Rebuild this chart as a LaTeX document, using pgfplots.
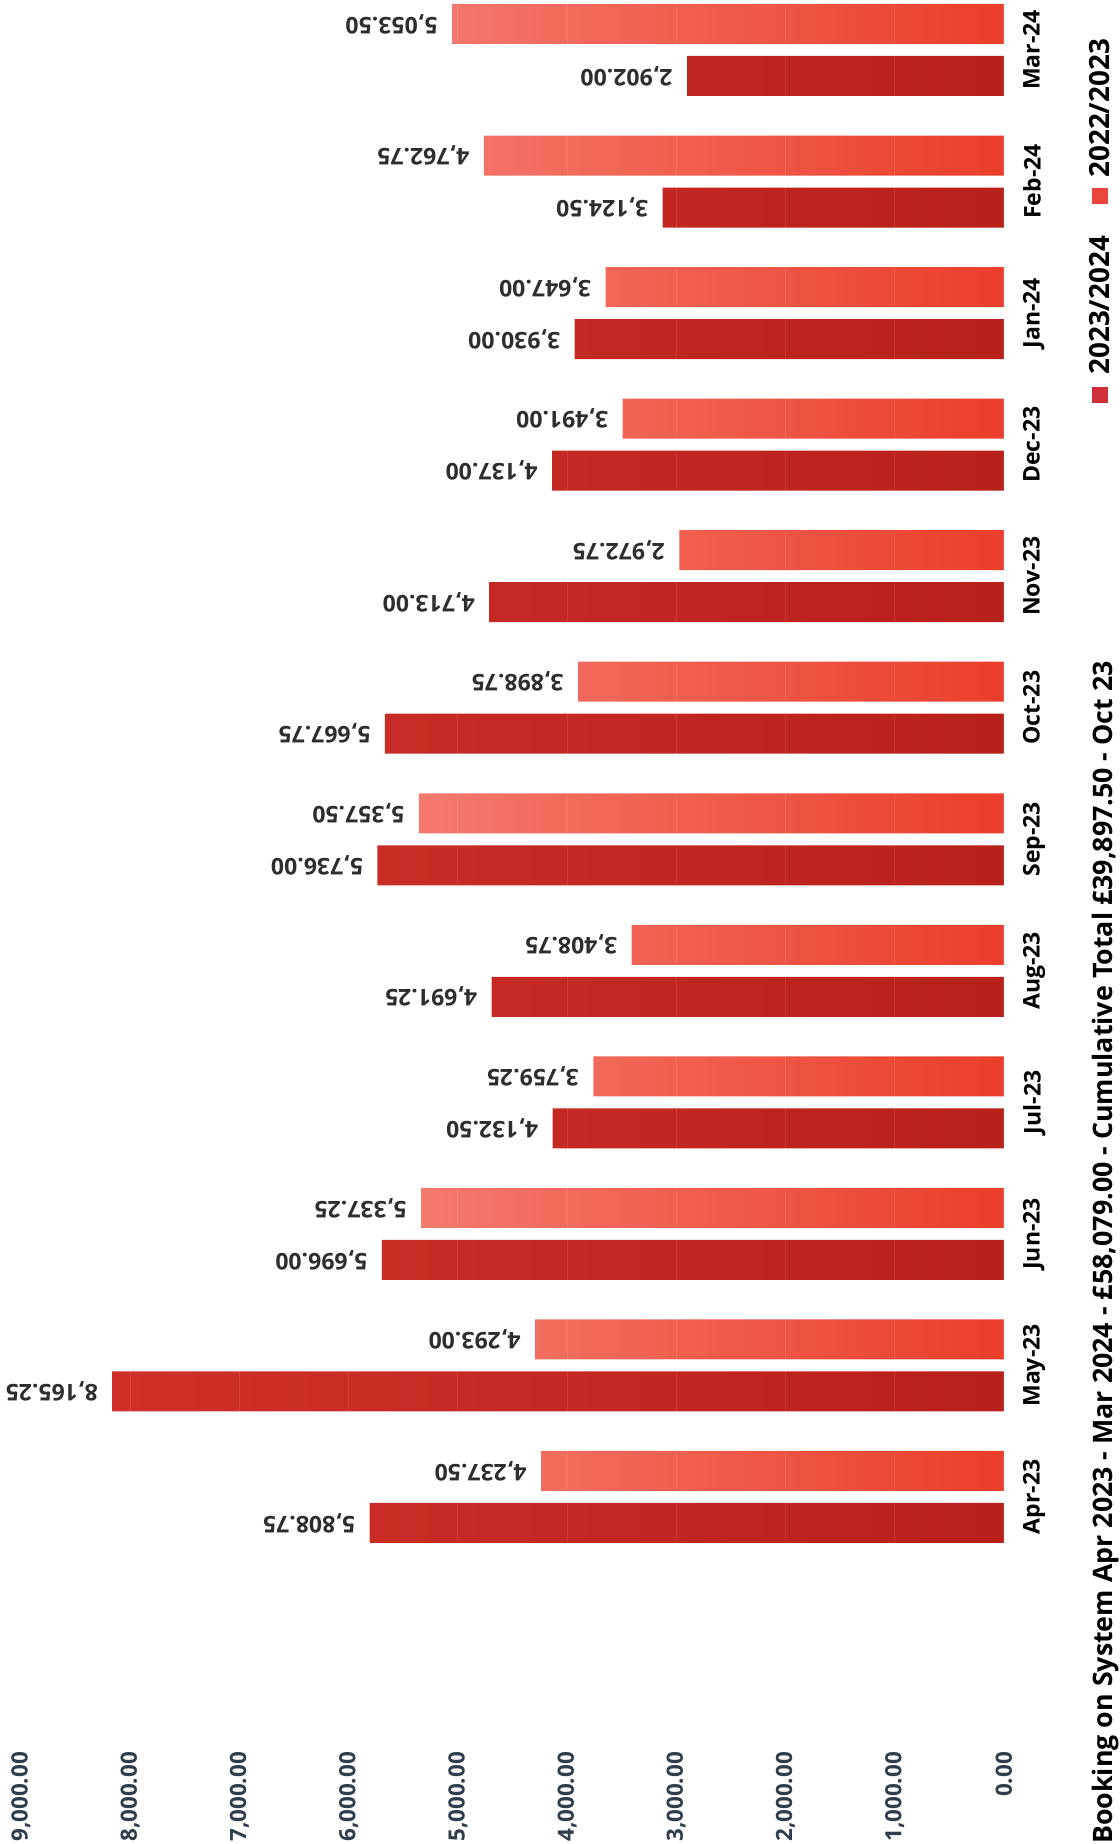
\documentclass[border=0pt]{standalone}
\usepackage{fontspec}
\setmainfont{Open Sans}
\usepackage{pgfplots}
\usepackage{pgfplotstable}
\pgfplotsset{compat=1.18}
\definecolor{dtip}{HTML}{D0302A}
\definecolor{dbase}{HTML}{B8201A}
\definecolor{ltip}{HTML}{F47A6E}
\definecolor{lbase}{HTML}{EB3E2A}
\definecolor{dleg}{HTML}{D0303A}
\definecolor{lleg}{HTML}{E8473A}
\definecolor{tickc}{HTML}{2F3E4E}
\definecolor{labc}{HTML}{2E2E2E}

\pgfplotstableread{
idx cur prev
0 5808.75 4237.50
1 8165.25 4293.00
2 5696.00 5337.25
3 4132.50 3759.25
4 4691.25 3408.75
5 5736.00 5357.50
6 5667.75 3898.75
7 4713.00 2972.75
8 4137.00 3491.00
9 3930.00 3647.00
10 3124.50 4762.75
11 2902.00 5053.50
}\data

\begin{document}
\begin{tikzpicture}
\useasboundingbox (0,0) rectangle (560pt,922pt);
\begin{axis}[
  at={(10.5pt,51.5pt)}, anchor=south west,
  scale only axis, width=491.5pt, height=870.5pt,
  xbar=6pt, bar width=20pt,
  x dir=reverse, xmin=0, xmax=9000,
  ymin=-1.855, ymax=11.38,
  xtick={0,1000,...,9000},
  scaled x ticks=false,
  ytick={0,...,11},
  yticklabels={Apr-23,May-23,Jun-23,Jul-23,Aug-23,Sep-23,Oct-23,Nov-23,Dec-23,Jan-24,Feb-24,Mar-24},
  yticklabel pos=right,
  axis line style={draw=none},
  major tick length=0pt,
  xmajorgrids, grid style={white, opacity=0.1, line width=0.5pt},
  axis on top,
  xticklabel style={rotate=90, anchor=east, font=\bfseries\fontsize{11.2}{13}\selectfont, text=tickc,
    /pgf/number format/fixed, /pgf/number format/fixed zerofill, /pgf/number format/precision=2,
    /pgf/number format/1000 sep={,}, /pgf/number format/assume math mode=true},
  xticklabel shift=2pt,
  yticklabel style={rotate=90, anchor=north, font=\bfseries\fontsize{11.5}{13}\selectfont, text=black},
  yticklabel shift=6pt,
  nodes near coords={\pgfmathprintnumber[fixed, fixed zerofill, precision=2, 1000 sep={,}, assume math mode=true]{\pgfplotspointmeta}},
  nodes near coords style={rotate=180, anchor=west, inner xsep=7pt, inner ysep=1pt, font=\bfseries\fontsize{11.5}{13}\selectfont, text=labc},
]
\addplot[draw=none, left color=dtip, right color=dbase, point meta=x] table[x=cur, y=idx] {\data};
\addplot[draw=none, left color=ltip, right color=lbase, point meta=x] table[x=prev, y=idx] {\data};
\end{axis}
% legend
\fill[dleg] (546pt,720.5pt) rectangle (554pt,728.5pt);
\node[rotate=90, anchor=west, inner sep=0pt, font=\bfseries\fontsize{13.9}{16}\selectfont] at (550pt,734.5pt) {2023/2024};
\fill[lleg] (546pt,820pt) rectangle (554pt,828pt);
\node[rotate=90, anchor=west, inner sep=0pt, font=\bfseries\fontsize{13.9}{16}\selectfont] at (550pt,833pt) {2022/2023};
\node[rotate=90, font=\bfseries\fontsize{13.4}{15}\selectfont, text=black] at (553pt,295.75pt)
  {Booking on System Apr 2023 - Mar 2024 - £58,079.00 - Cumulative Total £39,897.50 - Oct 23};
\end{tikzpicture}
\end{document}
